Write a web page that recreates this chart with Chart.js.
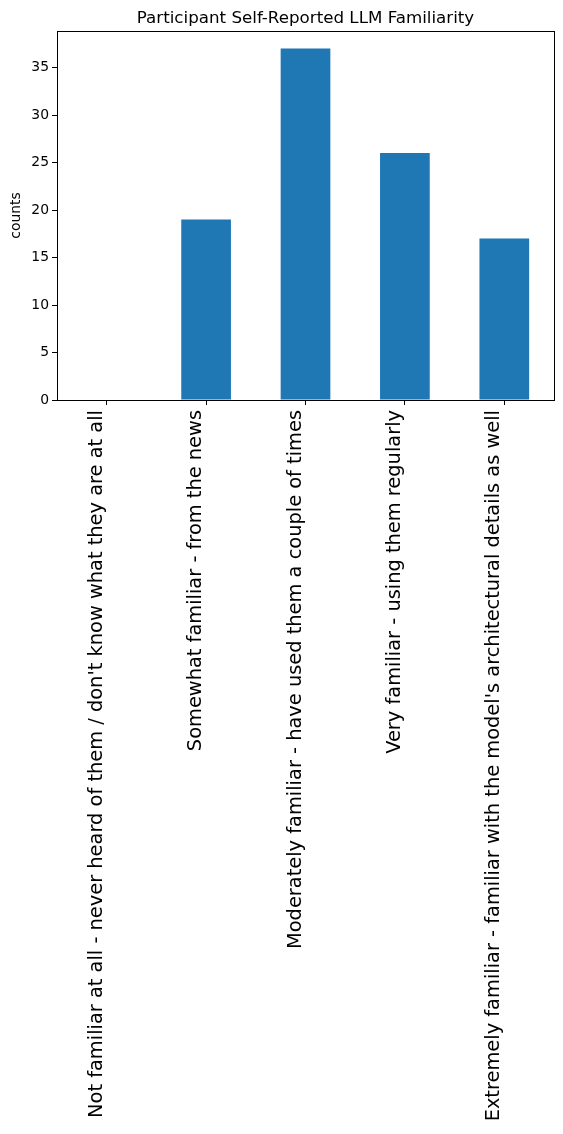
<!DOCTYPE html>
<html>
<head>
<meta charset="utf-8">
<script src="https://cdn.jsdelivr.net/npm/chart.js@4"></script>
<style>
  body { margin: 0; background: #fff; }
  #wrap { width: 563px; height: 1134px; position: relative; }
</style>
</head>
<body>
<div id="wrap"><canvas id="myChart"></canvas></div>
<script>
const categories = [
    'Not familiar at all - never heard of them / don\'t know what they are at all',
    'Somewhat familiar - from the news',
    'Moderately familiar - have used them a couple of times',
    'Very familiar - using them regularly',
    'Extremely familiar - familiar with the model\'s architectural details as well'
];
const counts = [0, 19, 37, 26, 17];
const yTicks = [0, 5, 10, 15, 20, 25, 30, 35];
const chartTitle = 'Participant Self-Reported LLM Familiarity';

const ctx = document.getElementById('myChart');

// box round the plot + title centred over the plot area (matplotlib style)
const frame = {
    id: 'frame',
    afterDraw(chart) {
        const a = chart.chartArea;
        const c = chart.ctx;
        c.save();
        c.strokeStyle = '#000';
        c.lineWidth = 1;
        c.strokeRect(Math.round(a.left) + 0.5, Math.round(a.top) + 0.5,
            Math.round(a.right - a.left), Math.round(a.bottom - a.top));
        c.fillStyle = '#000';
        c.font = '16.7px "DejaVu Sans"';
        c.textAlign = 'center';
        c.textBaseline = 'alphabetic';
        c.fillText(chartTitle, (a.left + a.right) / 2, 23);
        c.restore();
    }
};

const myChart = new Chart(ctx, {
    type: 'bar',
    data: {
        labels: categories,
        datasets: [{
            label: 'counts',
            data: counts,
            backgroundColor: '#1f77b4',
            borderWidth: 0,
            categoryPercentage: 1,
            barPercentage: 0.5
        }]
    },
    options: {
        responsive: true,
        maintainAspectRatio: false,
        animation: false,
        layout: { padding: { left: 0, right: 9, top: 31, bottom: 0 } },
        plugins: {
            legend: { display: false },
            tooltip: { enabled: false },
            title: { display: false }
        },
        scales: {
            x: {
                offset: true,
                grid: { display: true, offset: false, drawOnChartArea: false, drawTicks: true, tickLength: 5, color: '#000' },
                border: { display: false },
                ticks: {
                    color: '#000',
                    minRotation: 90,
                    maxRotation: 90,
                    autoSkip: false,
                    padding: 5,
                    labelOffset: -10,
                    font: { family: 'DejaVu Sans', size: 19.4 }
                },
                afterFit(scale) { scale.height = 734; }
            },
            y: {
                min: 0,
                max: 38.85,
                grid: { display: true, drawOnChartArea: false, drawTicks: true, tickLength: 5, color: '#000' },
                border: { display: false },
                ticks: {
                    color: '#000',
                    padding: 3,
                    font: { family: 'DejaVu Sans', size: 13.9 }
                },
                afterBuildTicks(scale) {
                    scale.ticks = yTicks.map(v => ({ value: v }));
                },
                title: {
                    display: true,
                    text: 'counts',
                    color: '#000',
                    font: { family: 'DejaVu Sans', size: 13.9 },
                    padding: { top: 8, bottom: 0 }
                },
                afterFit(scale) { scale.width = 57; }
            }
        }
    },
    plugins: [frame]
});
</script>
</body>
</html>
